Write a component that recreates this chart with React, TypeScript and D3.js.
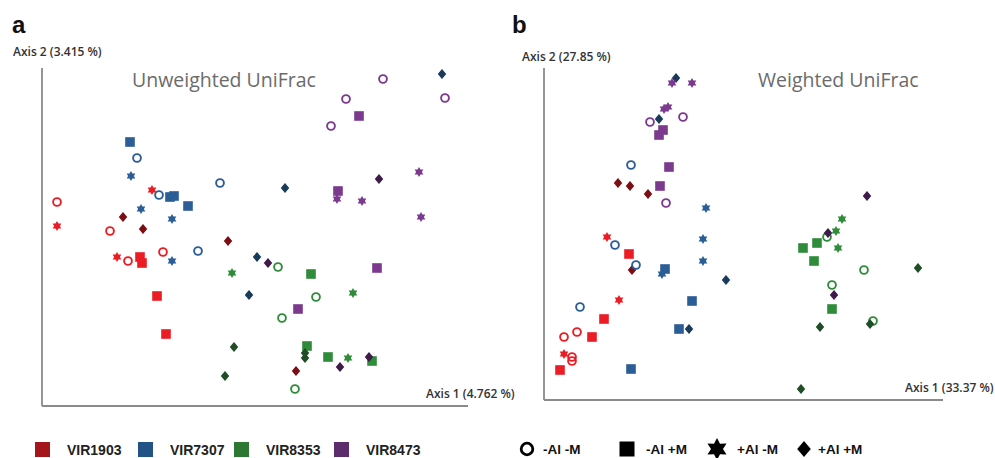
import React from "react";
import * as d3 from "d3";

// ---------- data ----------
const genotypes = ["VIR1903", "VIR7307", "VIR8353", "VIR8473"];
const treatments = ["-Al -M", "-Al +M", "+Al -M", "+Al +M"];
const titles = ["Unweighted UniFrac", "Weighted UniFrac"];
const axis1Labels = ["Axis 1 (4.762 %)", "Axis 1 (33.37 %)"];
const axis2Labels = ["Axis 2 (3.415 %)", "Axis 2 (27.85 %)"];
const panelLetters = ["a", "b"];

// [treatment index, Axis 1, Axis 2]
type Pt = [number, number, number];

const unweightedVIR1903: Pt[] = [
  [0, -0.37, 0.07], [0, -0.264, 0.012], [0, -0.228, -0.048], [0, -0.158, -0.03],
  [1, -0.204, -0.04], [1, -0.2, -0.052], [1, -0.17, -0.118], [1, -0.152, -0.194],
  [2, -0.18, 0.094], [2, -0.37, 0.022], [2, -0.25, -0.04],
  [3, -0.238, 0.04], [3, -0.198, 0.016], [3, -0.028, -0.008], [3, 0.108, -0.268],
];
const unweightedVIR7307: Pt[] = [
  [0, -0.21, 0.158], [0, -0.166, 0.084], [0, -0.044, 0.108], [0, -0.088, -0.028],
  [1, -0.224, 0.19], [1, -0.144, 0.08], [1, -0.136, 0.082], [1, -0.108, 0.062],
  [2, -0.222, 0.122], [2, -0.202, 0.056], [2, -0.14, 0.036], [2, -0.14, -0.048],
  [3, 0.086, 0.098], [3, 0.03, -0.04], [3, 0.014, -0.116], [3, 0.4, 0.326],
];
const unweightedVIR8353: Pt[] = [
  [0, 0.072, -0.06], [0, 0.148, -0.12], [0, 0.08, -0.162], [0, 0.106, -0.304],
  [1, 0.138, -0.074], [1, 0.13, -0.218], [1, 0.172, -0.24], [1, 0.26, -0.248],
  [2, -0.02, -0.072], [2, 0.222, -0.112], [2, 0.212, -0.242],
  [3, -0.016, -0.22], [3, -0.034, -0.278], [3, 0.126, -0.232], [3, 0.126, -0.242],
];
const unweightedVIR8473: Pt[] = [
  [0, 0.282, 0.316], [0, 0.406, 0.278], [0, 0.208, 0.276], [0, 0.178, 0.222],
  [1, 0.234, 0.242], [1, 0.192, 0.092], [1, 0.27, -0.062], [1, 0.112, -0.144],
  [2, 0.19, 0.076], [2, 0.24, 0.072], [2, 0.354, 0.13], [2, 0.358, 0.04],
  [3, 0.274, 0.116], [3, 0.052, -0.052], [3, 0.254, -0.24], [3, 0.196, -0.26],
];

const weightedVIR1903: Pt[] = [
  [0, -0.167, -0.098], [0, -0.18, -0.103], [0, -0.172, -0.123], [0, -0.172, -0.127],
  [1, -0.115, -0.02], [1, -0.14, -0.085], [1, -0.152, -0.103], [1, -0.184, -0.136],
  [2, -0.137, -0.003], [2, -0.125, -0.066], [2, -0.18, -0.12],
  [3, -0.126, 0.051], [3, -0.114, 0.048], [3, -0.096, 0.04], [3, -0.112, -0.036],
];
const weightedVIR7307: Pt[] = [
  [0, -0.113, 0.069], [0, -0.129, -0.011], [0, -0.108, -0.031], [0, -0.164, -0.073],
  [1, -0.079, -0.035], [1, -0.052, -0.067], [1, -0.065, -0.095], [1, -0.113, -0.135],
  [2, -0.038, 0.026], [2, -0.041, -0.005], [2, -0.041, -0.027], [2, -0.082, -0.04],
  [3, -0.068, 0.156], [3, -0.085, 0.115], [3, -0.018, -0.046], [3, -0.055, -0.095],
];
const weightedVIR8353: Pt[] = [
  [0, 0.083, -0.003], [0, 0.12, -0.036], [0, 0.088, -0.051], [0, 0.129, -0.087],
  [1, 0.073, -0.009], [1, 0.059, -0.014], [1, 0.07, -0.027], [1, 0.088, -0.075],
  [2, 0.098, 0.015], [2, 0.092, 0.003], [2, 0.094, -0.014],
  [3, 0.174, -0.034], [3, 0.076, -0.093], [3, 0.126, -0.09], [3, 0.057, -0.155],
];
const weightedVIR8473: Pt[] = [
  [0, -0.094, 0.112], [0, -0.061, 0.117], [0, -0.078, 0.031],
  [1, -0.081, 0.104], [1, -0.085, 0.099], [1, -0.075, 0.067], [1, -0.084, 0.048],
  [2, -0.072, 0.151], [2, -0.052, 0.151], [2, -0.08, 0.125], [2, -0.076, 0.127],
  [3, 0.123, 0.038], [3, 0.084, 0.001], [3, 0.09, -0.061],
];

const unweightedSets = [unweightedVIR1903, unweightedVIR7307, unweightedVIR8353, unweightedVIR8473];
const weightedSets = [weightedVIR1903, weightedVIR7307, weightedVIR8353, weightedVIR8473];

const unweightedXDomain = [-0.4, 0.452];
const unweightedYDomain = [-0.338, 0.338];
const weightedXDomain = [-0.2, 0.199];
const weightedYDomain = [-0.166, 0.166];

// ---------- styles ----------
const markColors = ["#ec1c24", "#2b5d96", "#2f8c3a", "#7b3a8e"];
const diamondColors = ["#7a0e14", "#193a59", "#1f4d26", "#3e1b48"];
const legendColors = ["#a5161c", "#235287", "#2d7933", "#5c2c6d"];

const starPath = (outer: number, inner: number) => {
  const pts: [number, number][] = d3.range(12).map((i) => [
    (i * Math.PI) / 6,
    i % 2 === 0 ? outer : inner,
  ]);
  return d3.lineRadial().curve(d3.curveLinearClosed)(pts) as string;
};
const diamondPath = (r: number) =>
  `M0,${-r}L${r * 0.85},0L0,${r}L${-r * 0.85},0Z`;

function Marker({ t, fill, scale = 1 }: { t: number; fill: string; scale?: number }) {
  if (t === 0)
    return <circle r={3.9 * scale} fill="none" stroke={fill} strokeWidth={1.9 * scale} />;
  if (t === 1)
    return <rect x={-4.8 * scale} y={-4.8 * scale} width={9.6 * scale} height={9.6 * scale} fill={fill} />;
  if (t === 2) return <path d={starPath(5 * scale, 2.9 * scale)} fill={fill} />;
  return <path d={diamondPath(5 * scale)} fill={fill} />;
}

function Panel({
  idx, sets, xDomain, yDomain, x0, x1, yTop, yBot,
  letterX, axis2Pos, titlePos, axis1Pos,
}: any) {
  const x = d3.scaleLinear().domain(xDomain).range([x0, x1]);
  const y = d3.scaleLinear().domain(yDomain).range([yBot, yTop]);
  return (
    <g>
      <text x={letterX} y={33} fontFamily="Liberation Sans, Arial, sans-serif" fontWeight="bold" fontSize={24} fill="#111">
        {panelLetters[idx]}
      </text>
      <text x={axis2Pos[0]} y={axis2Pos[1]} fontFamily="Open Sans, sans-serif" fontWeight={600} fontSize={12} fill="#333">
        {axis2Labels[idx]}
      </text>
      <text x={titlePos[0]} y={titlePos[1]} fontFamily="Open Sans, sans-serif" fontSize={19.5} fill="#6b6b6b">
        {titles[idx]}
      </text>
      <text x={axis1Pos[0]} y={axis1Pos[1]} fontFamily="Open Sans, sans-serif" fontWeight={600} fontSize={12} fill="#333">
        {axis1Labels[idx]}
      </text>
      <line x1={x0} x2={x0} y1={yTop} y2={yBot} stroke="#8a8a8a" strokeWidth={1.8} />
      <line x1={x0} x2={x1} y1={yBot} y2={yBot} stroke="#8a8a8a" strokeWidth={1.8} />
      {sets.map((pts: Pt[], g: number) =>
        pts.map((p, i) => (
          <g key={`${g}-${i}`} transform={`translate(${x(p[1])},${y(p[2])})`}>
            <Marker t={p[0]} fill={p[0] === 3 ? diamondColors[g] : markColors[g]} />
          </g>
        ))
      )}
    </g>
  );
}

export default function App() {
  const legendGenoX = [35, 138, 234, 334];
  const legendShapeX = [527, 627, 717, 804];
  const legendShapeTextX = [543, 646, 737, 818];
  return (
    <div style={{ position: "absolute", left: 0, top: 0 }}>
      <svg width={995} height={458} style={{ display: "block", background: "#fff" }}>
        <Panel
          idx={0} sets={unweightedSets} xDomain={unweightedXDomain} yDomain={unweightedYDomain}
          x0={42} x1={468} yTop={68} yBot={406}
          letterX={12} axis2Pos={[13, 56]} titlePos={[132, 87]} axis1Pos={[426, 398]}
        />
        <Panel
          idx={1} sets={weightedSets} xDomain={weightedXDomain} yDomain={weightedYDomain}
          x0={544} x1={943} yTop={68} yBot={400}
          letterX={512} axis2Pos={[522, 61]} titlePos={[758, 87]} axis1Pos={[905, 392]}
        />
        {genotypes.map((g, i) => (
          <g key={g}>
            <rect x={legendGenoX[i]} y={442} width={15} height={15} fill={legendColors[i]} />
            <text x={legendGenoX[i] + 32} y={455} fontFamily="Liberation Sans, Arial, sans-serif" fontWeight="bold" fontSize={14} fill="#222">
              {g}
            </text>
          </g>
        ))}
        {treatments.map((t, i) => (
          <g key={t}>
            <g transform={`translate(${legendShapeX[i]},449)`}>
              {i === 0 ? (
                <circle r={5.8} fill="none" stroke="#000" strokeWidth={2.8} />
              ) : i === 1 ? (
                <rect x={-7.5} y={-7.5} width={15} height={15} fill="#000" />
              ) : i === 2 ? (
                <path d={starPath(11, 6)} fill="#000" />
              ) : (
                <path d={diamondPath(8)} fill="#000" />
              )}
            </g>
            <text x={legendShapeTextX[i]} y={454} fontFamily="Liberation Sans, Arial, sans-serif" fontWeight="bold" fontSize={13.5} fill="#111">
              {t}
            </text>
          </g>
        ))}
      </svg>
    </div>
  );
}
